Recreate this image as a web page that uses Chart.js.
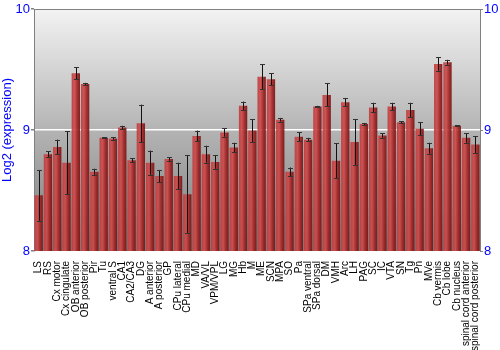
<!DOCTYPE html>
<html>
<head>
<meta charset="utf-8">
<script src="https://cdn.jsdelivr.net/npm/chart.js@4/dist/chart.umd.min.js"></script>
<style>
  html, body { margin: 0; padding: 0; background: #ffffff; }
  #wrap { width: 500px; height: 350px; }
</style>
</head>
<body>
<div id="wrap"><canvas id="c" width="500" height="350"></canvas></div>
<script>
const categories = ["LS","RS","Cx motor","Cx cingulate","OB anterior","OB posterior","Pir","Tu","ventral S","CA1","CA2/CA3","DG","A anterior","A posterior","GP","CPu lateral","CPu medial","MD","VA/VL","VPM/VPL","LG","MG","Hb","M","ME","SCN","MPA","SO","Pa","SPa ventral","SPa dorsal","DM","VMH","Arc","LH","PAG","SC","IC","VTA","SN","Tg","Pn","MVe","Cb vermis","Cb lobe","Cb nucleus","spinal cord anterior","spinal cord posterior"];
const values = [8.46,8.80,8.86,8.73,9.47,9.38,8.655,8.935,8.93,9.02,8.75,9.055,8.73,8.62,8.76,8.62,8.47,8.95,8.80,8.735,8.98,8.855,9.20,8.995,9.44,9.42,9.085,8.655,8.945,8.92,9.195,9.29,8.745,9.23,8.90,9.05,9.185,8.955,9.195,9.065,9.165,9.01,8.85,9.545,9.56,9.035,8.935,8.88];
const errors = [0.21,0.025,0.06,0.26,0.05,0.01,0.025,0.004,0.01,0.015,0.015,0.155,0.10,0.05,0.014,0.11,0.32,0.045,0.07,0.055,0.035,0.04,0.035,0.095,0.105,0.05,0.015,0.035,0.035,0.015,0.005,0.095,0.145,0.035,0.19,0.008,0.04,0.02,0.03,0.008,0.06,0.055,0.045,0.055,0.02,0.003,0.04,0.07];
const yTicks = [8, 9, 10];
const yTitle = "Log2 (expression)";

const bgPlugin = {
  id: 'bg',
  beforeDraw(chart) {
    const {ctx, chartArea: a} = chart;
    if (!a) return;
    const g = ctx.createLinearGradient(0, a.top, 0, a.bottom);
    g.addColorStop(0, '#f3f3f3');
    g.addColorStop(0.5, '#b4b4b4');
    g.addColorStop(1, '#7a7a7a');
    ctx.save();
    ctx.fillStyle = g;
    ctx.fillRect(a.left, a.top, a.right - a.left, a.bottom - a.top);
    ctx.restore();
  },
  afterDraw(chart) {
    const {ctx, chartArea: a} = chart;
    ctx.save();
    ctx.strokeStyle = '#808080';
    ctx.lineWidth = 1;
    ctx.beginPath();
    ctx.moveTo(a.left, a.top + 0.5);
    ctx.lineTo(a.right, a.top + 0.5);
    ctx.stroke();
    ctx.restore();
  }
};

const errPlugin = {
  id: 'err',
  afterDatasetsDraw(chart) {
    const {ctx} = chart;
    const xs = chart.scales.x, ys = chart.scales.y;
    ctx.save();
    for (let i = 0; i < values.length; i++) {
      const x = Math.round(xs.getPixelForValue(i)) + 0.5;
      const yT = ys.getPixelForValue(values[i] + errors[i]);
      const yB = ys.getPixelForValue(values[i] - errors[i]);
      ctx.strokeStyle = '#111';
      ctx.lineWidth = 1;
      ctx.beginPath();
      ctx.moveTo(x, yT); ctx.lineTo(x, yB);
      ctx.stroke();
      ctx.strokeStyle = '#333';
      ctx.beginPath();
      ctx.moveTo(x - 2.5, Math.round(yT) + 0.5); ctx.lineTo(x + 2.5, Math.round(yT) + 0.5);
      ctx.moveTo(x - 2.5, Math.round(yB) + 0.5); ctx.lineTo(x + 2.5, Math.round(yB) + 0.5);
      ctx.stroke();
    }
    ctx.restore();
  }
};

function barFill(c) {
  const chart = c.chart;
  const a = chart.chartArea;
  if (!a || c.dataIndex === undefined) return '#b03030';
  const xs = chart.scales.x;
  const x = xs.getPixelForValue(c.dataIndex);
  const w = (a.right - a.left) / categories.length * 0.9;
  const g = chart.ctx.createLinearGradient(x - w / 2, 0, x + w / 2, 0);
  g.addColorStop(0, 'rgba(190,60,60,0.92)');
  g.addColorStop(0.35, 'rgba(205,75,75,0.92)');
  g.addColorStop(0.7, 'rgba(160,35,35,0.92)');
  g.addColorStop(1, 'rgba(115,20,20,0.92)');
  return g;
}

const yScaleCommon = {
  min: 8, max: 10,
  afterBuildTicks(scale) { scale.ticks = yTicks.map(v => ({value: v})); },
  ticks: { color: '#0000ff', font: { family: 'Liberation Sans, Arial, sans-serif', size: 13 }, padding: 1 },
  grid: {
    color: c => (c.tick && c.tick.value === 9) ? '#ffffff' : 'rgba(0,0,0,0)',
    tickColor: '#808080', tickLength: 3, lineWidth: 1.5, drawOnChartArea: true
  },
  border: { display: true, color: '#808080' }
};

new Chart(document.getElementById('c'), {
  type: 'bar',
  data: {
    labels: categories,
    datasets: [{
      data: values,
      backgroundColor: barFill,
      borderWidth: 0,
      barPercentage: 0.9,
      categoryPercentage: 1.0
    }]
  },
  options: {
    responsive: false,
    animation: false,
    devicePixelRatio: 1,
    layout: { padding: { top: 9, left: 0, right: 0, bottom: 0 } },
    plugins: { legend: { display: false }, tooltip: { enabled: false } },
    scales: {
      x: {
        grid: { display: false },
        border: { display: false },
        ticks: {
          color: '#000', autoSkip: false, maxRotation: 90, minRotation: 90, padding: 2,
          font: { family: 'Liberation Sans, Arial, sans-serif', size: 10 }
        },
        afterFit(s) { s.height = 99; }
      },
      y: Object.assign({}, yScaleCommon, {
        position: 'left',
        title: { display: true, text: yTitle, color: '#0000ff', padding: 0,
          font: { family: 'Liberation Sans, Arial, sans-serif', size: 13 } },
        afterFit(s) { s.width = 34; }
      }),
      y2: Object.assign({}, yScaleCommon, {
        position: 'right',
        grid: { drawOnChartArea: false, tickColor: '#808080', tickLength: 3 },
        afterFit(s) { s.width = 20; }
      })
    }
  },
  plugins: [bgPlugin, errPlugin]
});
</script>
</body>
</html>
